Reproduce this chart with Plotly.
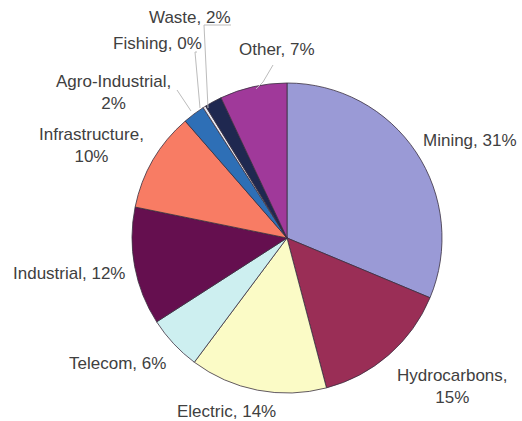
import plotly.graph_objects as go

W, H = 522, 421

labels = ["Mining", "Hydrocarbons", "Electric", "Telecom", "Industrial",
          "Infrastructure", "Agro-Industrial", "Fishing", "Waste", "Other"]
values = [31.3, 14.6, 14.3, 5.7, 12.3, 10.4, 2.3, 0.3, 1.8, 7.0]
shown_pct = ["31%", "15%", "14%", "6%", "12%", "10%", "2%", "0%", "2%", "7%"]
colors = ["#9a9ad6", "#9a2e56", "#fbfbc6", "#cdeff0", "#650f4f",
          "#f87c64", "#2e6fb6", "#e8e8f0", "#1f2850", "#a0399a"]

# label placement in pixels: (x center, y center, two-line?)
label_layout = {
    "Mining": (470, 140, False),
    "Hydrocarbons": (452, 386, True),
    "Electric": (226, 411, False),
    "Telecom": (117, 363, False),
    "Industrial": (69, 273, False),
    "Infrastructure": (91, 145, True),
    "Agro-Industrial": (113, 93, True),
    "Fishing": (157, 43, False),
    "Waste": (190, 17, False),
    "Other": (277, 50, False),
}


def px(x, y):
    return x / W, 1 - y / H


fig = go.Figure(go.Pie(
    labels=labels,
    values=values,
    sort=False,
    direction="clockwise",
    rotation=0,
    textinfo="none",
    hoverinfo="label+percent",
    marker=dict(colors=colors, line=dict(color="#3a3040", width=0.8)),
    domain=dict(x=[132 / W, 442 / W], y=[1 - 393 / H, 1 - 83 / H]),
    showlegend=False,
))

annotations = []
for lab, pct in zip(labels, shown_pct):
    x, y, br = label_layout[lab]
    xp, yp = px(x, y)
    text = f"{lab},<br>{pct}" if br else f"{lab}, {pct}"
    annotations.append(dict(
        x=xp, y=yp, xref="paper", yref="paper", text=text, showarrow=False,
        xanchor="center", yanchor="middle", align="center",
        font=dict(family="Liberation Sans, Arial, sans-serif", size=17, color="#404040"),
    ))

# leader lines (pixel paths)
leaders = [
    [(231, 25), (204, 25), (208, 108)],    # Waste
    [(197, 52), (195, 52), (200, 108)],    # Fishing
    [(177, 90), (191, 111)],               # Agro-Industrial
    [(273, 65), (263, 82), (256, 89)],     # Other
]
shapes = []
for pts in leaders:
    path = ""
    for i, (x, y) in enumerate(pts):
        xp, yp = px(x, y)
        path += ("M" if i == 0 else "L") + f"{xp},{yp} "
    shapes.append(dict(type="path", path=path.strip(), xref="paper", yref="paper",
                       line=dict(color="#bcbcbc", width=1)))

fig.update_layout(
    width=W, height=H, autosize=False,
    margin=dict(l=0, r=0, t=0, b=0),
    paper_bgcolor="white", plot_bgcolor="white",
    annotations=annotations, shapes=shapes,
)

fig.write_html(
    "out.html",
    config={"displayModeBar": False},
    post_script="document.body.style.margin='0';document.body.style.overflow='hidden';",
)
